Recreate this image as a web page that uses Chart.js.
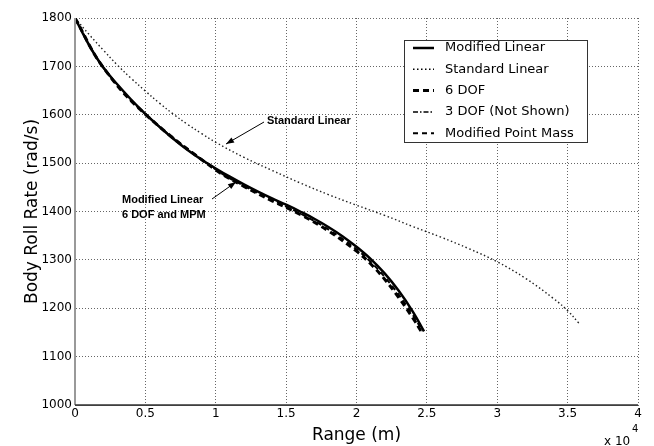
<!DOCTYPE html>
<html lang="en">
<head>
    <meta charset="UTF-8">
    <title>Body Roll Rate vs Range</title>
    <script src="https://cdn.jsdelivr.net/npm/chart.js@4"></script>
    <style>
        body { margin: 0; background: #fff; }
        #wrap { width: 654px; height: 446px; }
    </style>
</head>
<body>
    <div id="wrap"><canvas id="rollChart" width="654" height="446"></canvas></div>

    <script>
        // range in units of 10^4 m
        const modLinX = [0, 0.1, 0.2, 0.3, 0.4, 0.5, 0.6, 0.7, 0.8, 0.9, 1.0, 1.1, 1.2, 1.3, 1.4, 1.5, 1.6, 1.7, 1.8, 1.9, 2.0, 2.1, 2.2, 2.3, 2.4, 2.48];
        const modLinY = [1800, 1744, 1698, 1663, 1631, 1602, 1575, 1550, 1527, 1507, 1489, 1472, 1456, 1441, 1427, 1414, 1400, 1385, 1368, 1349, 1327, 1302, 1272, 1236, 1193, 1152];

        const stdLinX = [0, 0.1, 0.2, 0.3, 0.4, 0.5, 0.6, 0.7, 0.8, 0.9, 1.0, 1.2, 1.4, 1.6, 1.8, 2.0, 2.2, 2.4, 2.6, 2.8, 3.0, 3.2, 3.4, 3.5, 3.58];
        const stdLinY = [1800, 1766, 1734, 1703, 1675, 1649, 1624, 1601, 1580, 1561, 1543, 1512, 1485, 1459, 1435, 1413, 1392, 1369, 1347, 1323, 1296, 1262, 1220, 1195, 1169];

        const dof6X = [0, 0.2, 0.5, 1.0, 1.2, 1.4, 1.6, 1.8, 2.0, 2.1, 2.2, 2.3, 2.4, 2.46];
        const dof6Y = [1800, 1698, 1601, 1486, 1452, 1422, 1394, 1360, 1318, 1292, 1260, 1222, 1180, 1152];

        const mpmX = [0, 0.2, 0.5, 1.0, 1.2, 1.4, 1.6, 1.8, 2.0, 2.1, 2.2, 2.3, 2.4, 2.47];
        const mpmY = [1800, 1698, 1601, 1487, 1453, 1424, 1396, 1363, 1322, 1296, 1265, 1228, 1186, 1153];

        const legendNames = ["Modified Linear", "Standard Linear", "6 DOF", "3 DOF (Not Shown)", "Modified Point Mass"];

        function pts(xs, ys) {
            return xs.map((x, i) => ({ x: x, y: ys[i] }));
        }

        const FONT = "'DejaVu Sans', sans-serif";

        function arrow(ctx, x1, y1, x2, y2) {
            ctx.beginPath();
            ctx.moveTo(x1, y1);
            ctx.lineTo(x2, y2);
            ctx.stroke();
            const a = Math.atan2(y2 - y1, x2 - x1);
            const L = 8, W = 3;
            ctx.beginPath();
            ctx.moveTo(x2, y2);
            ctx.lineTo(x2 - L * Math.cos(a) + W * Math.sin(a), y2 - L * Math.sin(a) - W * Math.cos(a));
            ctx.lineTo(x2 - L * Math.cos(a) - W * Math.sin(a), y2 - L * Math.sin(a) + W * Math.cos(a));
            ctx.closePath();
            ctx.fill();
        }

        // axis lines, titles, annotations, legend box and the x10^4 multiplier
        const extras = {
            id: 'extras',
            afterDraw(chart) {
                const ctx = chart.ctx;
                const area = chart.chartArea;
                ctx.save();

                // solid axes (left grey, bottom dark)
                ctx.setLineDash([]);
                ctx.strokeStyle = '#999';
                ctx.lineWidth = 2;
                ctx.beginPath();
                ctx.moveTo(area.left, area.top);
                ctx.lineTo(area.left, area.bottom);
                ctx.stroke();
                ctx.strokeStyle = '#333';
                ctx.lineWidth = 1.5;
                ctx.beginPath();
                ctx.moveTo(area.left, area.bottom);
                ctx.lineTo(area.right, area.bottom);
                ctx.stroke();

                ctx.fillStyle = '#000';
                ctx.strokeStyle = '#000';

                // axis titles
                ctx.font = "17px " + FONT;
                ctx.textAlign = 'center';
                ctx.textBaseline = 'middle';
                ctx.fillText("Range (m)", (area.left + area.right) / 2, 436);
                ctx.save();
                ctx.translate(33, (area.top + area.bottom) / 2);
                ctx.rotate(-Math.PI / 2);
                ctx.fillText("Body Roll Rate (rad/s)", 0, 0);
                ctx.restore();

                // x 10^4
                ctx.font = "12px " + FONT;
                ctx.textAlign = 'left';
                ctx.fillText("x 10", 604, 442);
                ctx.font = "10px " + FONT;
                ctx.fillText("4", 632, 429);

                // annotations
                ctx.font = "bold 11px 'Liberation Sans', Arial, sans-serif";
                ctx.textAlign = 'left';
                ctx.fillText("Standard Linear", 267, 121);
                ctx.fillText("Modified Linear", 122, 200);
                ctx.fillText("6 DOF and MPM", 122, 215);
                ctx.lineWidth = 1;
                arrow(ctx, 264, 122, 226, 144);
                arrow(ctx, 212, 199, 236, 182);

                // legend
                const bx = 404, by = 40, bw = 183, bh = 102;
                ctx.fillStyle = '#fff';
                ctx.fillRect(bx, by, bw, bh);
                ctx.strokeStyle = '#333';
                ctx.lineWidth = 1;
                ctx.strokeRect(bx + 0.5, by + 0.5, bw, bh);
                const styles = chart.data.datasets;
                ctx.font = "13px " + FONT;
                ctx.textBaseline = 'middle';
                legendNames.forEach((name, i) => {
                    const y = by + 8 + i * 21.3;
                    const ds = styles[i];
                    ctx.strokeStyle = '#000';
                    ctx.lineWidth = ds.borderWidth;
                    ctx.setLineDash(ds.borderDash || []);
                    ctx.beginPath();
                    ctx.moveTo(413, y);
                    ctx.lineTo(434, y);
                    ctx.stroke();
                    ctx.setLineDash([]);
                    ctx.fillStyle = '#000';
                    ctx.fillText(name, 445, y);
                });
                ctx.restore();
            }
        };

        const tickFont = { family: "'DejaVu Sans', sans-serif", size: 12 };

        const ctx = document.getElementById('rollChart').getContext('2d');
        new Chart(ctx, {
            type: 'line',
            data: {
                datasets: [
                    {
                        label: legendNames[0],
                        data: pts(modLinX, modLinY),
                        borderColor: '#000',
                        borderWidth: 2.5,
                        tension: 0.4
                    },
                    {
                        label: legendNames[1],
                        data: pts(stdLinX, stdLinY),
                        borderColor: '#222',
                        borderWidth: 1.4,
                        borderDash: [1.5, 2.5],
                        tension: 0.4
                    },
                    {
                        label: legendNames[2],
                        data: pts(dof6X, dof6Y),
                        borderColor: '#000',
                        borderWidth: 3,
                        borderDash: [6, 4],
                        tension: 0.4
                    },
                    {
                        label: legendNames[3],
                        data: [],
                        borderColor: '#000',
                        borderWidth: 1.5,
                        borderDash: [5, 2, 1.5, 2]
                    },
                    {
                        label: legendNames[4],
                        data: pts(mpmX, mpmY),
                        borderColor: '#000',
                        borderWidth: 2,
                        borderDash: [5, 4],
                        tension: 0.4
                    }
                ]
            },
            options: {
                responsive: false,
                animation: false,
                devicePixelRatio: 1,
                elements: { point: { radius: 0 } },
                layout: { padding: { top: 18, right: 16, left: 0, bottom: 0 } },
                plugins: {
                    legend: { display: false },
                    tooltip: { enabled: false }
                },
                scales: {
                    x: {
                        type: 'linear',
                        min: 0,
                        max: 4,
                        afterFit(scale) { scale.height = 41; },
                        ticks: {
                            stepSize: 0.5,
                            color: '#000',
                            padding: 2,
                            maxRotation: 0,
                            font: tickFont,
                            callback: v => String(v)
                        },
                        grid: {
                            color: '#666',
                            drawTicks: false
                        },
                        border: { color: '#666', width: 1, dash: [1, 2] }
                    },
                    y: {
                        min: 1000,
                        max: 1800,
                        afterFit(scale) { scale.width = 75; },
                        ticks: {
                            stepSize: 100,
                            color: '#000',
                            padding: 3,
                            font: tickFont,
                            callback: v => String(v)
                        },
                        grid: {
                            color: '#666',
                            drawTicks: false
                        },
                        border: { color: '#666', width: 1, dash: [1, 2] }
                    }
                }
            },
            plugins: [extras]
        });
    </script>
</body>
</html>
